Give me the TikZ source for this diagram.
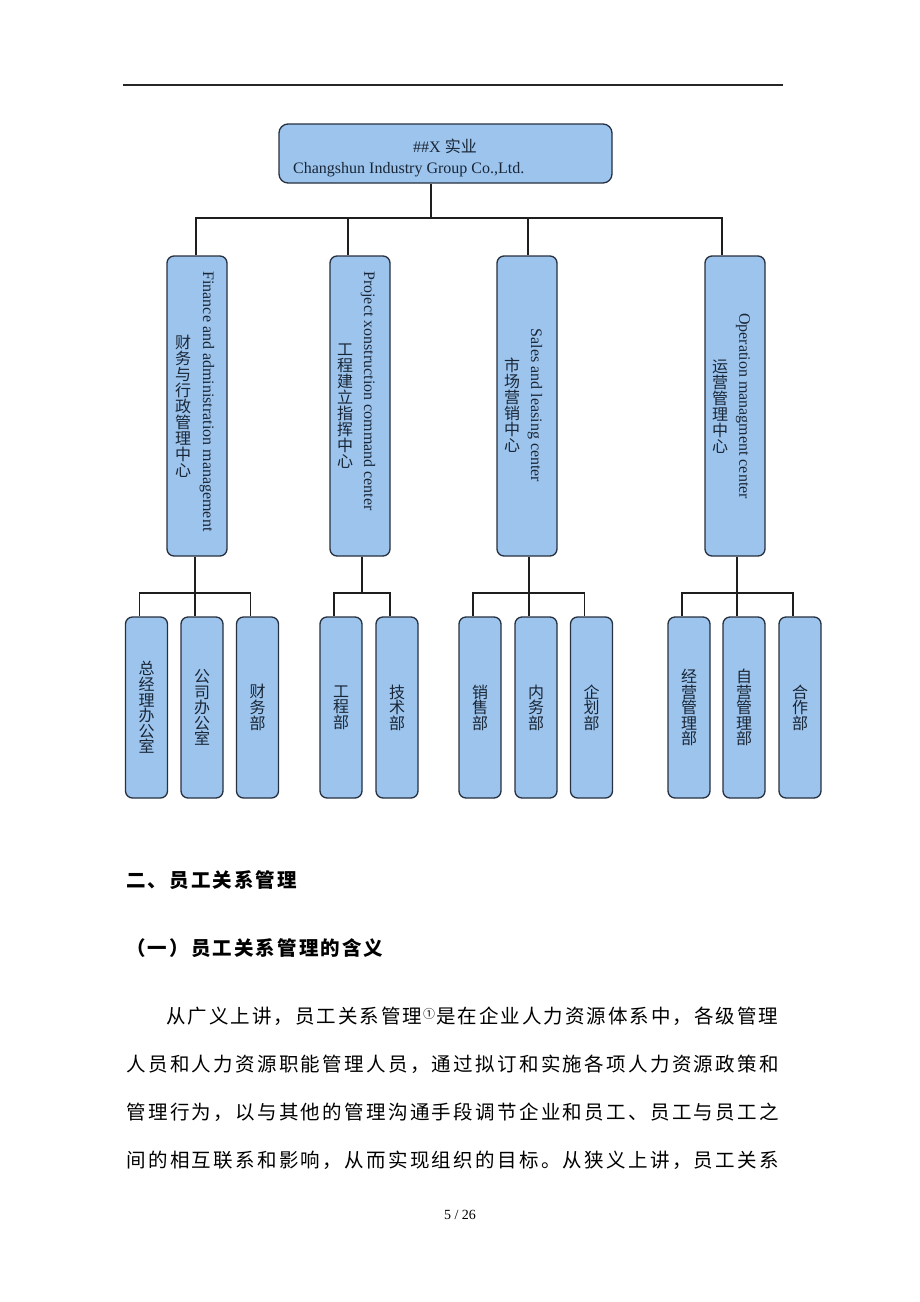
\documentclass[tikz,border=0pt]{standalone}
\usepackage{fontspec}
\usepackage{graphicx}
\setmainfont{Liberation Serif}
\newfontfamily\cjk{Noto Sans CJK SC}
\makeatletter
\newcommand\charrow[2]{\@tfor\my@c:=#2\do{\makebox[#1][c]{\my@c}}}
\makeatother
\definecolor{boxfill}{RGB}{157,196,236}
\definecolor{boxline}{RGB}{38,48,62}
\definecolor{conncol}{RGB}{30,30,30}
\definecolor{boxtext}{RGB}{25,38,55}
\tikzset{
  orgbox/.style={draw=boxline, fill=boxfill, line width=1.3pt, inner sep=0pt},
  topbox/.style={orgbox, rounded corners=9pt, minimum width=333pt, minimum height=59pt},
  midbox/.style={orgbox, rounded corners=7pt, minimum width=60pt, minimum height=300pt},
  subbox/.style={orgbox, rounded corners=7pt, minimum width=42pt, minimum height=181pt},
  conn/.style={draw=conncol, line width=1.1pt},
  entext/.style={rotate=-90, inner sep=0pt, text=boxtext, font=\fontsize{16}{18}\selectfont},
  zhcol/.style={align=center, inner sep=0pt, text=boxtext, font=\cjk\fontsize{16}{16}\selectfont},
  para/.style={anchor=west, inner sep=0pt, font=\cjk\fontsize{19.5}{21}\selectfont}
}
\begin{document}
\begin{tikzpicture}[x=1pt,y=-1pt]
\useasboundingbox (0,0) rectangle (920,1302);
% top rule
\draw[line width=1.2pt, draw=black!85] (123,85) -- (783,85);
% top box
\node[topbox] (top) at (445.5,153.5) {};
\node[inner sep=0pt, text=boxtext, font=\fontsize{16}{18}\selectfont] (toptitle) at (445,146) {\#\#X {\cjk 实业}};
\node[anchor=west, inner sep=0pt, text=boxtext, font=\fontsize{16}{18}\selectfont] (topsub) at (293,170) {Changshun Industry Group Co.,Ltd.};
% middle boxes
\node[midbox] (m1) at (197,406) {};
\node[midbox] (m2) at (360,406) {};
\node[midbox] (m3) at (527,406) {};
\node[midbox] (m4) at (735,406) {};
\node[entext] (m1en) at (207,401.5) {Finance and administration management};
\node[zhcol] (m1zh) at (183,406.5) {财\\务\\与\\行\\政\\管\\理\\中\\心};
\node[entext] (m2en) at (368,391) {Project xonstruction command center};
\node[zhcol] (m2zh) at (345,406.5) {工\\程\\建\\立\\指\\挥\\中\\心};
\node[entext] (m3en) at (535,405.5) {Sales and leasing center};
\node[zhcol] (m3zh) at (512,405.5) {市\\场\\营\\销\\中\\心};
\node[entext] (m4en) at (743,406) {Operation managment center};
\node[zhcol] (m4zh) at (720,406.5) {运\\营\\管\\理\\中\\心};
% bottom boxes
\tikzset{subtext/.style={zhcol, font=\cjk\fontsize{16}{15.6}\selectfont}}
\node[subbox] (b11) at (146.5,707.5) {}; \node[subtext] at (b11) {总\\经\\理\\办\\公\\室};
\node[subbox] (b12) at (202,707.5) {};   \node[subtext] at (b12) {公\\司\\办\\公\\室};
\node[subbox] (b13) at (257.5,707.5) {}; \node[subtext] at (b13) {财\\务\\部};
\node[subbox] (b21) at (341,707.5) {};   \node[subtext] at (b21) {工\\程\\部};
\node[subbox] (b22) at (397,707.5) {};   \node[subtext] at (b22) {技\\术\\部};
\node[subbox] (b31) at (480,707.5) {};   \node[subtext] at (b31) {销\\售\\部};
\node[subbox] (b32) at (536,707.5) {};   \node[subtext] at (b32) {内\\务\\部};
\node[subbox] (b33) at (591.5,707.5) {}; \node[subtext] at (b33) {企\\划\\部};
\node[subbox] (b41) at (689,707.5) {};   \node[subtext] at (b41) {经\\营\\管\\理\\部};
\node[subbox] (b42) at (744,707.5) {};   \node[subtext] at (b42) {自\\营\\管\\理\\部};
\node[subbox] (b43) at (800,707.5) {};   \node[subtext] at (b43) {合\\作\\部};
% connectors level 1
\coordinate (bar) at (0,218);
\draw[conn] ([xshift=-14.5pt]top.south) -- ([xshift=-14.5pt]top.south |- bar);
\draw[conn] ([xshift=-1pt]m1.north) -- ([xshift=-1pt]m1.north |- bar) -- ([xshift=-13pt]m4.north |- bar) -- ([xshift=-13pt]m4.north);
\draw[conn] ([xshift=-12pt]m2.north) -- ([xshift=-12pt]m2.north |- bar);
\draw[conn] ([xshift=1pt]m3.north) -- ([xshift=1pt]m3.north |- bar);
% connectors level 2
\coordinate (bar2) at (0,593);
\draw[conn] ([xshift=-2pt]m1.south) -- ([xshift=-7pt]b12.north);
\draw[conn] ([xshift=-7pt]b11.north) -- ([xshift=-7pt]b11.north |- bar2) -- ([xshift=-7pt]b13.north |- bar2) -- ([xshift=-7pt]b13.north);
\draw[conn] ([xshift=2pt]m2.south) -- ([xshift=2pt]m2.south |- bar2);
\draw[conn] ([xshift=-7pt]b21.north) -- ([xshift=-7pt]b21.north |- bar2) -- ([xshift=-7pt]b22.north |- bar2) -- ([xshift=-7pt]b22.north);
\draw[conn] ([xshift=2pt]m3.south) -- ([xshift=-7pt]b32.north);
\draw[conn] ([xshift=-7pt]b31.north) -- ([xshift=-7pt]b31.north |- bar2) -- ([xshift=-7pt]b33.north |- bar2) -- ([xshift=-7pt]b33.north);
\draw[conn] ([xshift=2pt]m4.south) -- ([xshift=-7pt]b42.north);
\draw[conn] ([xshift=-7pt]b41.north) -- ([xshift=-7pt]b41.north |- bar2) -- ([xshift=-7pt]b43.north |- bar2) -- ([xshift=-7pt]b43.north);
% text below
\node[para, font=\cjk\bfseries\fontsize{19.5}{21}\selectfont] (h1) at (125,880) {\charrow{21.6pt}{二、员工关系管理}};
\node[para, font=\cjk\bfseries\fontsize{19.5}{21}\selectfont] (h2) at (125,948) {\charrow{21.6pt}{（一）员工关系管理的含义}};
\node[para] (p1) at (165,1016) {\charrow{21.5pt}{从广义上讲，员工关系管理}\makebox[12pt]{\raisebox{5pt}{\fontsize{12}{12}\selectfont ①}}\charrow{21.5pt}{是在企业人力资源体系中，各级管理}};
\node[para] (p2) at (125,1064) {\charrow{21.83pt}{人员和人力资源职能管理人员，通过拟订和实施各项人力资源政策和}};
\node[para] (p3) at (125,1112) {\charrow{21.83pt}{管理行为，以与其他的管理沟通手段调节企业和员工、员工与员工之}};
\node[para] (p4) at (125,1160) {\charrow{21.83pt}{间的相互联系和影响，从而实现组织的目标。从狭义上讲，员工关系}};
\node[inner sep=0pt, font=\fontsize{14}{16}\selectfont] (pg) at (460,1215) {5 / 26};
\end{tikzpicture}
\end{document}
